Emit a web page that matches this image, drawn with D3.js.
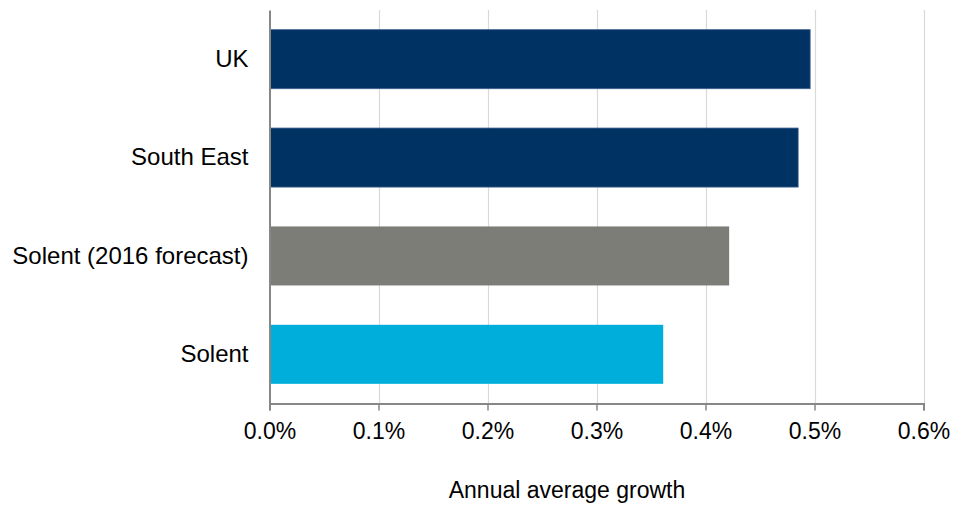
<!DOCTYPE html>
<html>
<head>
<meta charset="utf-8">
<script src="https://cdn.jsdelivr.net/npm/d3@7"></script>
<style>
  html, body { margin: 0; padding: 0; background: #fff; }
  svg text { font-family: "Liberation Sans", Arial, sans-serif; fill: #000; }
</style>
</head>
<body>
<svg id="chart" width="961" height="506"></svg>
<script>
// Annual average growth by area
const categories = ["UK", "South East", "Solent (2016 forecast)", "Solent"];
const growth = [0.496, 0.485, 0.4217, 0.3612]; // percent per year
const barColors = ["#003263", "#003263", "#7d7d78", "#00aedc"];
const barStrokes = ["#3d5f8f", "#3d5f8f", "none", "none"];
const tickValues = [0, 0.1, 0.2, 0.3, 0.4, 0.5, 0.6];
const axisTitle = "Annual average growth";

const svg = d3.select("#chart");
const plot = { left: 269.5, right: 923.5, top: 10, bottom: 403.5 };

const x = d3.scaleLinear().domain([0, 0.6]).range([plot.left, plot.right]);
const y = d3.scaleBand().domain(categories).range([plot.top, plot.bottom])
  .paddingInner(0.4).paddingOuter(0.2);

// vertical gridlines
svg.append("g").selectAll("line")
  .data(tickValues.slice(1))
  .join("line")
  .attr("x1", d => Math.round(x(d)) + 0.5)
  .attr("x2", d => Math.round(x(d)) + 0.5)
  .attr("y1", plot.top).attr("y2", plot.bottom)
  .attr("stroke", "#d9d9d9").attr("stroke-width", 1.2);

// bars
svg.append("g").selectAll("rect")
  .data(categories)
  .join("rect")
  .attr("x", x(0))
  .attr("y", d => y(d))
  .attr("width", (d, i) => x(growth[i]) - x(0))
  .attr("height", y.bandwidth())
  .attr("fill", (d, i) => barColors[i])
  .attr("stroke", (d, i) => barStrokes[i])
  .attr("stroke-width", 0.8);

// x axis
const xAxis = d3.axisBottom(x)
  .tickValues(tickValues)
  .tickFormat(d => d3.format(".1f")(d) + "%")
  .tickSize(7)
  .tickPadding(12);
const gx = svg.append("g").attr("transform", `translate(0,${plot.bottom})`).call(xAxis);
gx.select(".domain").attr("stroke", "#878787").attr("stroke-width", 2);
gx.selectAll(".tick line").attr("stroke", "#878787").attr("stroke-width", 1.5);
gx.selectAll(".tick text").attr("font-size", 23)
  .attr("font-family", "Liberation Sans, Arial, sans-serif");

// y axis
const yAxis = d3.axisLeft(y).tickSize(0).tickPadding(21);
const gy = svg.append("g").attr("transform", `translate(${plot.left},0)`).call(yAxis);
gy.select(".domain").attr("stroke", "#878787").attr("stroke-width", 2);
gy.selectAll(".tick text").attr("font-size", 24)
  .attr("font-family", "Liberation Sans, Arial, sans-serif");

// axis title
svg.append("text")
  .attr("x", 567)
  .attr("y", 497.5)
  .attr("text-anchor", "middle")
  .attr("font-size", 23)
  .text(axisTitle);
</script>
</body>
</html>
